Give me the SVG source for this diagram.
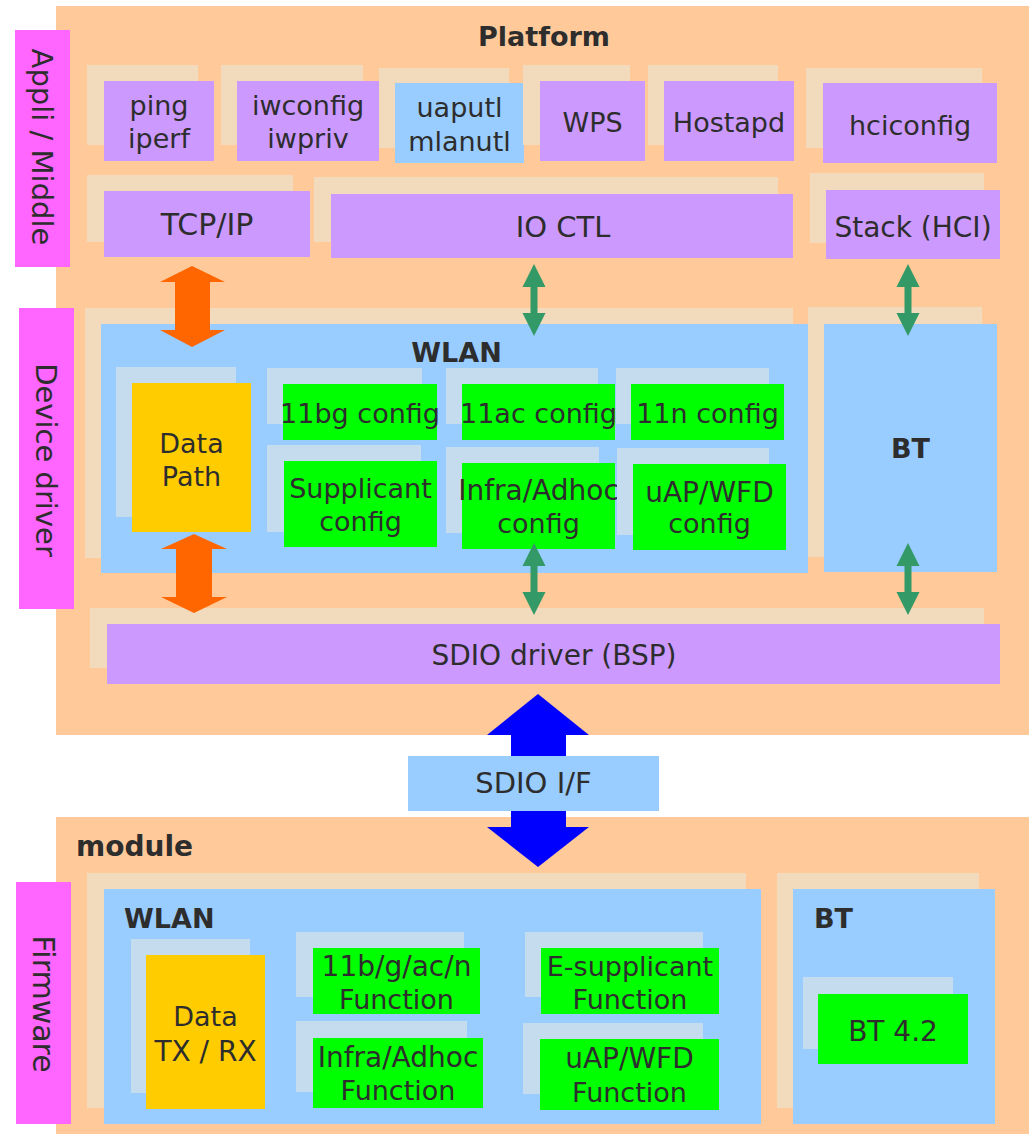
<svg xmlns="http://www.w3.org/2000/svg" width="1029" height="1134" viewBox="0 0 1029 1134">
<style>
.bg{fill:#FFC999}
.gh{fill:#F2DABC}
.gb{fill:#C5DCEF}
.pu{fill:#CC99FF}
.pk{fill:#FF66FF}
.bl{fill:#99CCFF}
.gr{fill:#00FF00}
.ye{fill:#FFCC00}
text{font-family:"DejaVu Sans","Liberation Sans",sans-serif;font-size:27px;fill:#2d2d2d}
.c{text-anchor:middle}
.b{font-weight:bold}
.s28{font-size:28px}
.s29{font-size:29px}
.s30{font-size:30px}
.oa{fill:#FF6600}
.ga{fill:#339966}
.ba{fill:#0000FF}
</style>
<rect width="1029" height="1134" fill="#FFFFFF"/>
<g id="platform">
<rect class="bg" x="56" y="6" width="973" height="729"/>
<text class="c b" x="544" y="46">Platform</text>
</g>
<g id="module">
<rect class="bg" x="56" y="817" width="973" height="317"/>
<text class="b s28" x="76" y="856">module</text>
</g>
<g id="appli-middle">
<rect class="pk" x="15" y="30" width="55" height="237"/>
<text class="c s29" transform="translate(42,147) rotate(90)" x="0" y="10">Appli / Middle</text>
</g>
<g id="device-driver">
<rect class="pk" x="19" y="308" width="55" height="301"/>
<text class="c s29" transform="translate(46,460) rotate(90)" x="0" y="10">Device driver</text>
</g>
<g id="firmware">
<rect class="pk" x="16" y="882" width="55" height="242"/>
<text class="c s30" transform="translate(43,1004) rotate(90)" x="0" y="10">Firmware</text>
</g>
<g id="ping">
<rect class="gh" x="87" y="65" width="111" height="80"/>
<rect class="pu" x="104" y="81" width="110" height="80"/>
<text class="c" x="159" y="115">ping</text>
<text class="c" x="159" y="148">iperf</text>
</g>
<g id="iwconfig">
<rect class="gh" x="221" y="65" width="142" height="80"/>
<rect class="pu" x="237" y="81" width="142" height="80"/>
<text class="c" x="308" y="115">iwconfig</text>
<text class="c" x="308" y="148">iwpriv</text>
</g>
<g id="uaputl">
<rect class="gh" x="379" y="68" width="130" height="80"/>
<rect class="bl" x="395" y="83" width="129" height="80"/>
<text class="c" x="459.5" y="117">uaputl</text>
<text class="c" x="459.5" y="151">mlanutl</text>
</g>
<g id="wps">
<rect class="gh" x="523" y="65" width="107" height="80"/>
<rect class="pu" x="540" y="81" width="105" height="80"/>
<text class="c" x="592.5" y="132">WPS</text>
</g>
<g id="hostapd">
<rect class="gh" x="648" y="65" width="130" height="80"/>
<rect class="pu" x="664" y="81" width="130" height="80"/>
<text class="c" x="729" y="132">Hostapd</text>
</g>
<g id="hciconfig">
<rect class="gh" x="806" y="68" width="176" height="80"/>
<rect class="pu" x="823" y="83" width="174" height="80"/>
<text class="c" x="910" y="135">hciconfig</text>
</g>
<g id="tcpip">
<rect class="gh" x="87" y="175" width="206" height="67"/>
<rect class="pu" x="104" y="191" width="206" height="66"/>
<text class="c s30" x="207" y="235">TCP/IP</text>
</g>
<g id="ioctl">
<rect class="gh" x="314" y="177" width="464" height="65"/>
<rect class="pu" x="331" y="194" width="462" height="64"/>
<text class="c s29" x="563" y="237">IO CTL</text>
</g>
<g id="stack">
<rect class="gh" x="810" y="173" width="174" height="70"/>
<rect class="pu" x="826" y="190" width="174" height="69"/>
<text class="c s28" x="913" y="237">Stack (HCI)</text>
</g>
<g id="wlan-driver">
<rect class="gh" x="85" y="308" width="708" height="250"/>
<rect class="bl" x="101" y="324" width="707" height="249"/>
<text class="c b" x="456.5" y="362">WLAN</text>
</g>
<g id="data-path">
<rect class="gb" x="116" y="367" width="120" height="150"/>
<rect class="ye" x="132" y="383" width="119" height="149"/>
<text class="c" x="191.5" y="453">Data</text>
<text class="c" x="191.5" y="486">Path</text>
</g>
<g id="cfg-11bg">
<rect class="gb" x="267" y="368" width="155" height="56"/>
<rect class="gr" x="283" y="384" width="154" height="56"/>
<text class="c" x="360" y="423">11bg config</text>
</g>
<g id="cfg-supplicant">
<rect class="gb" x="267" y="445" width="154" height="87"/>
<rect class="gr" x="284" y="461" width="153" height="86"/>
<text class="c" x="360.5" y="498">Supplicant</text>
<text class="c" x="360.5" y="531">config</text>
</g>
<g id="cfg-11ac">
<rect class="gb" x="446" y="368" width="152" height="56"/>
<rect class="gr" x="462" y="384" width="153" height="56"/>
<text class="c" x="538.5" y="423">11ac config</text>
</g>
<g id="cfg-infra">
<rect class="gb" x="446" y="447" width="153" height="86"/>
<rect class="gr" x="462" y="463" width="153" height="86"/>
<text class="c s28" x="538.5" y="500">Infra/Adhoc</text>
<text class="c" x="538.5" y="533">config</text>
</g>
<g id="cfg-11n">
<rect class="gb" x="616" y="368" width="153" height="56"/>
<rect class="gr" x="631" y="384" width="153" height="56"/>
<text class="c" x="707.5" y="423">11n config</text>
</g>
<g id="cfg-uap">
<rect class="gb" x="617" y="448" width="152" height="87"/>
<rect class="gr" x="633" y="464" width="153" height="86"/>
<text class="c s28" x="709.5" y="502">uAP/WFD</text>
<text class="c" x="709.5" y="533">config</text>
</g>
<g id="bt-driver">
<rect class="gh" x="808" y="307" width="174" height="250"/>
<rect class="bl" x="824" y="324" width="173" height="248"/>
<text class="c b" x="910.5" y="458">BT</text>
</g>
<g id="sdio-driver">
<rect class="gh" x="90" y="608" width="894" height="60"/>
<rect class="pu" x="107" y="624" width="893" height="60"/>
<text class="c s28" x="554" y="665">SDIO driver (BSP)</text>
</g>
<g id="wlan-fw">
<rect class="gh" x="87" y="873" width="659" height="235"/>
<rect class="bl" x="104" y="889" width="657" height="235"/>
<text class="b" x="124" y="928">WLAN</text>
</g>
<g id="data-txrx">
<rect class="gb" x="131" y="939" width="119" height="154"/>
<rect class="ye" x="146" y="955" width="119" height="154"/>
<text class="c" x="205.5" y="1026">Data</text>
<text class="c s28" x="205.5" y="1061">TX / RX</text>
</g>
<g id="fn-11bgacn">
<rect class="gb" x="296" y="932" width="168" height="65"/>
<rect class="gr" x="313" y="948" width="167" height="66"/>
<text class="c s28" x="396.5" y="976">11b/g/ac/n</text>
<text class="c" x="396.5" y="1009">Function</text>
</g>
<g id="fn-infra">
<rect class="gb" x="296" y="1021" width="171" height="71"/>
<rect class="gr" x="313" y="1038" width="170" height="70"/>
<text class="c s28" x="398" y="1067">Infra/Adhoc</text>
<text class="c" x="398" y="1100">Function</text>
</g>
<g id="fn-esupplicant">
<rect class="gb" x="525" y="932" width="178" height="65"/>
<rect class="gr" x="541" y="948" width="178" height="66"/>
<text class="c" x="630" y="976">E-supplicant</text>
<text class="c" x="630" y="1009">Function</text>
</g>
<g id="fn-uap">
<rect class="gb" x="523" y="1023" width="180" height="71"/>
<rect class="gr" x="540" y="1039" width="179" height="71"/>
<text class="c s28" x="629.5" y="1068">uAP/WFD</text>
<text class="c" x="629.5" y="1102">Function</text>
</g>
<g id="bt-fw">
<rect class="gh" x="777" y="873" width="202" height="235"/>
<rect class="bl" x="793" y="889" width="202" height="235"/>
<text class="b" x="814" y="928">BT</text>
</g>
<g id="bt42">
<rect class="gb" x="803" y="977" width="150" height="72"/>
<rect class="gr" x="818" y="994" width="150" height="70"/>
<text class="c s28" x="893" y="1041">BT 4.2</text>
</g>
<g id="connectors">
<path class="oa" d="M192,266 L225,282 L210,282 L210,330 L225,330 L192,347 L160,330 L175,330 L175,282 L160,282 Z"/>
<path class="oa" d="M194,534 L227,549 L212,549 L212,597 L227,597 L194,613 L161,597 L176,597 L176,549 L161,549 Z"/>
<path class="ga" d="M534,264 L545.5,287 L537.5,287 L537.5,313 L545.5,313 L534,336 L522.5,313 L530.5,313 L530.5,287 L522.5,287 Z"/>
<path class="ga" d="M534,543 L545.5,566 L537.5,566 L537.5,592 L545.5,592 L534,615 L522.5,592 L530.5,592 L530.5,566 L522.5,566 Z"/>
<path class="ga" d="M908,264 L919.5,287 L911.5,287 L911.5,313 L919.5,313 L908,336 L896.5,313 L904.5,313 L904.5,287 L896.5,287 Z"/>
<path class="ga" d="M908,543 L919.5,566 L911.5,566 L911.5,592 L919.5,592 L908,615 L896.5,592 L904.5,592 L904.5,566 L896.5,566 Z"/>
<path class="ba" d="M538,694 L589,735 L566,735 L566,827 L589,827 L538,867 L487,827 L511,827 L511,735 L487,735 Z"/>
</g>
<g id="sdio-if">
<rect class="bl" x="408" y="756" width="251" height="55"/>
<text class="c s29" x="533.5" y="793">SDIO I/F</text>
</g>
</svg>
